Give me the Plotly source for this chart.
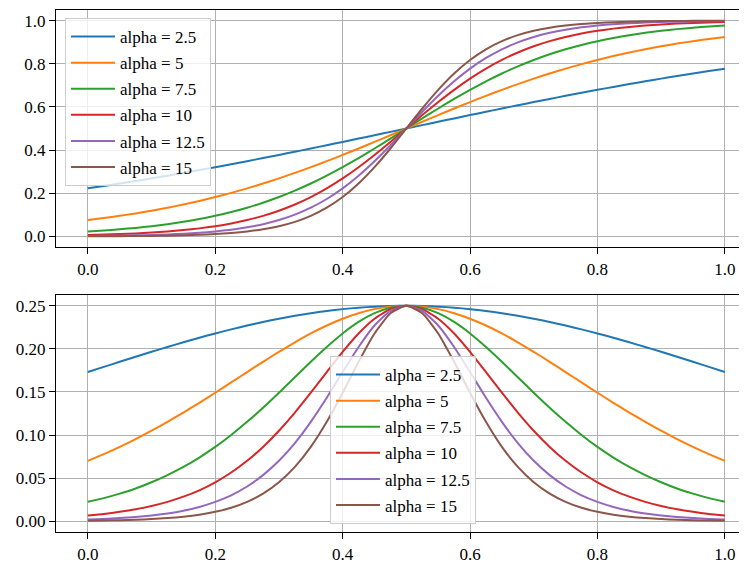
import plotly.graph_objects as go
from plotly.subplots import make_subplots

x = [0.0, 0.025, 0.05, 0.075, 0.1, 0.125, 0.15, 0.175, 0.2, 0.225, 0.25, 0.275, 0.3, 0.325,
     0.35, 0.375, 0.4, 0.425, 0.45, 0.475, 0.5, 0.525, 0.55, 0.575, 0.6, 0.625, 0.65, 0.675,
     0.7, 0.725, 0.75, 0.775, 0.8, 0.825, 0.85, 0.875, 0.9, 0.925, 0.95, 0.975, 1.0]

labels = ["alpha = 2.5", "alpha = 5", "alpha = 7.5", "alpha = 10", "alpha = 12.5", "alpha = 15"]

sig_a2_5 = [0.2227, 0.2337, 0.2451, 0.2568, 0.2689, 0.2814, 0.2942, 0.3073, 0.3208, 0.3346, 0.3486,
            0.3630, 0.3775, 0.3923, 0.4073, 0.4225, 0.4378, 0.4533, 0.4688, 0.4844, 0.5,
            0.5156, 0.5312, 0.5467, 0.5622, 0.5775, 0.5927, 0.6077, 0.6225, 0.6370, 0.6514,
            0.6654, 0.6792, 0.6927, 0.7058, 0.7186, 0.7311, 0.7432, 0.7549, 0.7663, 0.7773]
sig_a5 = [0.0759, 0.0851, 0.0953, 0.1067, 0.1192, 0.1330, 0.1480, 0.1645, 0.1824, 0.2018, 0.2227,
          0.2451, 0.2689, 0.2942, 0.3208, 0.3486, 0.3775, 0.4073, 0.4378, 0.4688, 0.5,
          0.5312, 0.5622, 0.5927, 0.6225, 0.6514, 0.6792, 0.7058, 0.7311, 0.7549, 0.7773,
          0.7982, 0.8176, 0.8355, 0.8520, 0.8670, 0.8808, 0.8933, 0.9047, 0.9149, 0.9241]
sig_a7_5 = [0.0230, 0.0276, 0.0331, 0.0396, 0.0474, 0.0567, 0.0676, 0.0804, 0.0953, 0.1128, 0.1330,
            0.1561, 0.1824, 0.2121, 0.2451, 0.2814, 0.3208, 0.3630, 0.4073, 0.4533, 0.5,
            0.5467, 0.5927, 0.6370, 0.6792, 0.7186, 0.7549, 0.7879, 0.8176, 0.8439, 0.8670,
            0.8872, 0.9047, 0.9196, 0.9324, 0.9433, 0.9526, 0.9604, 0.9669, 0.9724, 0.9770]
sig_a10 = [0.0067, 0.0086, 0.0110, 0.0141, 0.0180, 0.0230, 0.0293, 0.0373, 0.0474, 0.0601, 0.0759,
           0.0953, 0.1192, 0.1480, 0.1824, 0.2227, 0.2689, 0.3208, 0.3775, 0.4378, 0.5,
           0.5622, 0.6225, 0.6792, 0.7311, 0.7773, 0.8176, 0.8520, 0.8808, 0.9047, 0.9241,
           0.9399, 0.9526, 0.9627, 0.9707, 0.9770, 0.9820, 0.9859, 0.9890, 0.9914, 0.9933]
sig_a12_5 = [0.0019, 0.0026, 0.0036, 0.0049, 0.0067, 0.0091, 0.0124, 0.0169, 0.0230, 0.0311, 0.0421,
             0.0567, 0.0759, 0.1009, 0.1330, 0.1733, 0.2227, 0.2814, 0.3486, 0.4225, 0.5,
             0.5775, 0.6514, 0.7186, 0.7773, 0.8267, 0.8670, 0.8991, 0.9241, 0.9433, 0.9579,
             0.9689, 0.9770, 0.9831, 0.9876, 0.9909, 0.9933, 0.9951, 0.9964, 0.9974, 0.9981]
sig_a15 = [0.0006, 0.0008, 0.0012, 0.0017, 0.0025, 0.0036, 0.0052, 0.0076, 0.0110, 0.0159, 0.0230,
           0.0331, 0.0474, 0.0676, 0.0953, 0.1330, 0.1824, 0.2451, 0.3208, 0.4073, 0.5,
           0.5927, 0.6792, 0.7549, 0.8176, 0.8670, 0.9047, 0.9324, 0.9526, 0.9669, 0.9770,
           0.9841, 0.9890, 0.9924, 0.9948, 0.9964, 0.9975, 0.9983, 0.9988, 0.9992, 0.9994]

der_a2_5 = [0.1731, 0.1791, 0.1850, 0.1909, 0.1966, 0.2022, 0.2076, 0.2129, 0.2179, 0.2226, 0.2271,
            0.2312, 0.2350, 0.2384, 0.2414, 0.2440, 0.2461, 0.2478, 0.2490, 0.2498, 0.25,
            0.2498, 0.2490, 0.2478, 0.2461, 0.2440, 0.2414, 0.2384, 0.2350, 0.2312, 0.2271,
            0.2226, 0.2179, 0.2129, 0.2076, 0.2022, 0.1966, 0.1909, 0.1850, 0.1791, 0.1731]
der_a5 = [0.0701, 0.0779, 0.0862, 0.0953, 0.1050, 0.1153, 0.1261, 0.1374, 0.1491, 0.1611, 0.1731,
          0.1850, 0.1966, 0.2076, 0.2179, 0.2271, 0.2350, 0.2414, 0.2461, 0.2490, 0.25,
          0.2490, 0.2461, 0.2414, 0.2350, 0.2271, 0.2179, 0.2076, 0.1966, 0.1850, 0.1731,
          0.1611, 0.1491, 0.1374, 0.1261, 0.1153, 0.1050, 0.0953, 0.0862, 0.0779, 0.0701]
der_a7_5 = [0.0225, 0.0268, 0.0320, 0.0380, 0.0452, 0.0535, 0.0630, 0.0739, 0.0862, 0.1001, 0.1153,
            0.1317, 0.1491, 0.1671, 0.1850, 0.2022, 0.2179, 0.2312, 0.2414, 0.2478, 0.25,
            0.2478, 0.2414, 0.2312, 0.2179, 0.2022, 0.1850, 0.1671, 0.1491, 0.1317, 0.1153,
            0.1001, 0.0862, 0.0739, 0.0630, 0.0535, 0.0452, 0.0380, 0.0320, 0.0268, 0.0225]
der_a10 = [0.0066, 0.0085, 0.0109, 0.0139, 0.0177, 0.0225, 0.0285, 0.0359, 0.0452, 0.0565, 0.0701,
           0.0862, 0.1050, 0.1261, 0.1491, 0.1731, 0.1966, 0.2179, 0.2350, 0.2461, 0.25,
           0.2461, 0.2350, 0.2179, 0.1966, 0.1731, 0.1491, 0.1261, 0.1050, 0.0862, 0.0701,
           0.0565, 0.0452, 0.0359, 0.0285, 0.0225, 0.0177, 0.0139, 0.0109, 0.0085, 0.0066]
der_a12_5 = [0.0019, 0.0026, 0.0036, 0.0049, 0.0066, 0.0090, 0.0122, 0.0166, 0.0225, 0.0301, 0.0403,
             0.0535, 0.0701, 0.0907, 0.1153, 0.1433, 0.1731, 0.2022, 0.2271, 0.2440, 0.25,
             0.2440, 0.2271, 0.2022, 0.1731, 0.1433, 0.1153, 0.0907, 0.0701, 0.0535, 0.0403,
             0.0301, 0.0225, 0.0166, 0.0122, 0.0090, 0.0066, 0.0049, 0.0036, 0.0026, 0.0019]
der_a15 = [0.0006, 0.0008, 0.0012, 0.0017, 0.0025, 0.0036, 0.0052, 0.0075, 0.0109, 0.0156, 0.0225,
           0.0320, 0.0452, 0.0630, 0.0862, 0.1153, 0.1491, 0.1850, 0.2179, 0.2414, 0.25,
           0.2414, 0.2179, 0.1850, 0.1491, 0.1153, 0.0862, 0.0630, 0.0452, 0.0320, 0.0225,
           0.0156, 0.0109, 0.0075, 0.0052, 0.0036, 0.0025, 0.0017, 0.0012, 0.0008, 0.0006]

top_series = [sig_a2_5, sig_a5, sig_a7_5, sig_a10, sig_a12_5, sig_a15]
bottom_series = [der_a2_5, der_a5, der_a7_5, der_a10, der_a12_5, der_a15]

x_ticks = [0.0, 0.2, 0.4, 0.6, 0.8, 1.0]
top_y_ticks = [0.0, 0.2, 0.4, 0.6, 0.8, 1.0]
bottom_y_ticks = [0.0, 0.05, 0.10, 0.15, 0.20, 0.25]

colors = ["#1f77b4", "#ff7f0e", "#2ca02c", "#d62728", "#9467bd", "#8c564b"]
FONT = "Liberation Serif"

# page is offset by the 8px body margin of the html page
OFF = 8
W, H = 747 - OFF, 563 - OFF
ml, mr, mt, mb = 56 - OFF, 0, 10 - OFF, 31
PW, PH = W - ml - mr, H - mt - mb
# plot area in page pixels: x 56..747, y 10..532

fig = make_subplots(rows=2, cols=1, vertical_spacing=(295 - 247) / PH)

for i, (lab, ys) in enumerate(zip(labels, top_series)):
    fig.add_trace(go.Scatter(x=x, y=ys, mode="lines", name=lab,
                             line=dict(color=colors[i], width=2, shape="spline", smoothing=0.5),
                             legend="legend", legendgroup="t%d" % i), row=1, col=1)
for i, (lab, ys) in enumerate(zip(labels, bottom_series)):
    fig.add_trace(go.Scatter(x=x, y=ys, mode="lines", name=lab,
                             line=dict(color=colors[i], width=2, shape="spline", smoothing=0.5),
                             legend="legend2", legendgroup="b%d" % i), row=2, col=1)

xrange_ = [-0.05, -0.05 + PW / 637.0]
axis_common = dict(showline=True, linecolor="black", linewidth=1.2, ticks="outside",
                   ticklen=6, tickwidth=1.2, tickcolor="black", showgrid=True,
                   gridcolor="#b0b0b0", gridwidth=1, zeroline=False, automargin=False,
                   tickfont=dict(family=FONT, size=17, color="black"))

for r in (1, 2):
    fig.update_xaxes(range=xrange_, tickvals=x_ticks, tickformat=".1f", mirror=True,
                     row=r, col=1, **axis_common)
fig.update_yaxes(range=[-0.049, 1.049], tickvals=top_y_ticks, tickformat=".1f",
                 row=1, col=1, **axis_common)
fig.update_yaxes(range=[-0.0125, 0.2625], tickvals=bottom_y_ticks, tickformat=".2f",
                 row=2, col=1, **axis_common)

legend_style = dict(bgcolor="rgba(255,255,255,0.8)", bordercolor="#cccccc", borderwidth=1,
                    font=dict(family=FONT, size=17, color="black"), tracegroupgap=1,
                    xref="paper", yref="paper", xanchor="left", yanchor="top",
                    itemwidth=44)
fig.update_layout(
    width=W, height=H,
    margin=dict(l=ml, r=mr, t=mt, b=mb, autoexpand=False),
    plot_bgcolor="white", paper_bgcolor="white",
    legend=dict(x=(65 - 56) / PW, y=(532 - 18) / PH, **legend_style),
    legend2=dict(x=(330 - 56) / PW, y=(532 - 356) / PH, **legend_style),
    font=dict(family=FONT, size=17, color="black"),
)

fig.write_html("out.html")
